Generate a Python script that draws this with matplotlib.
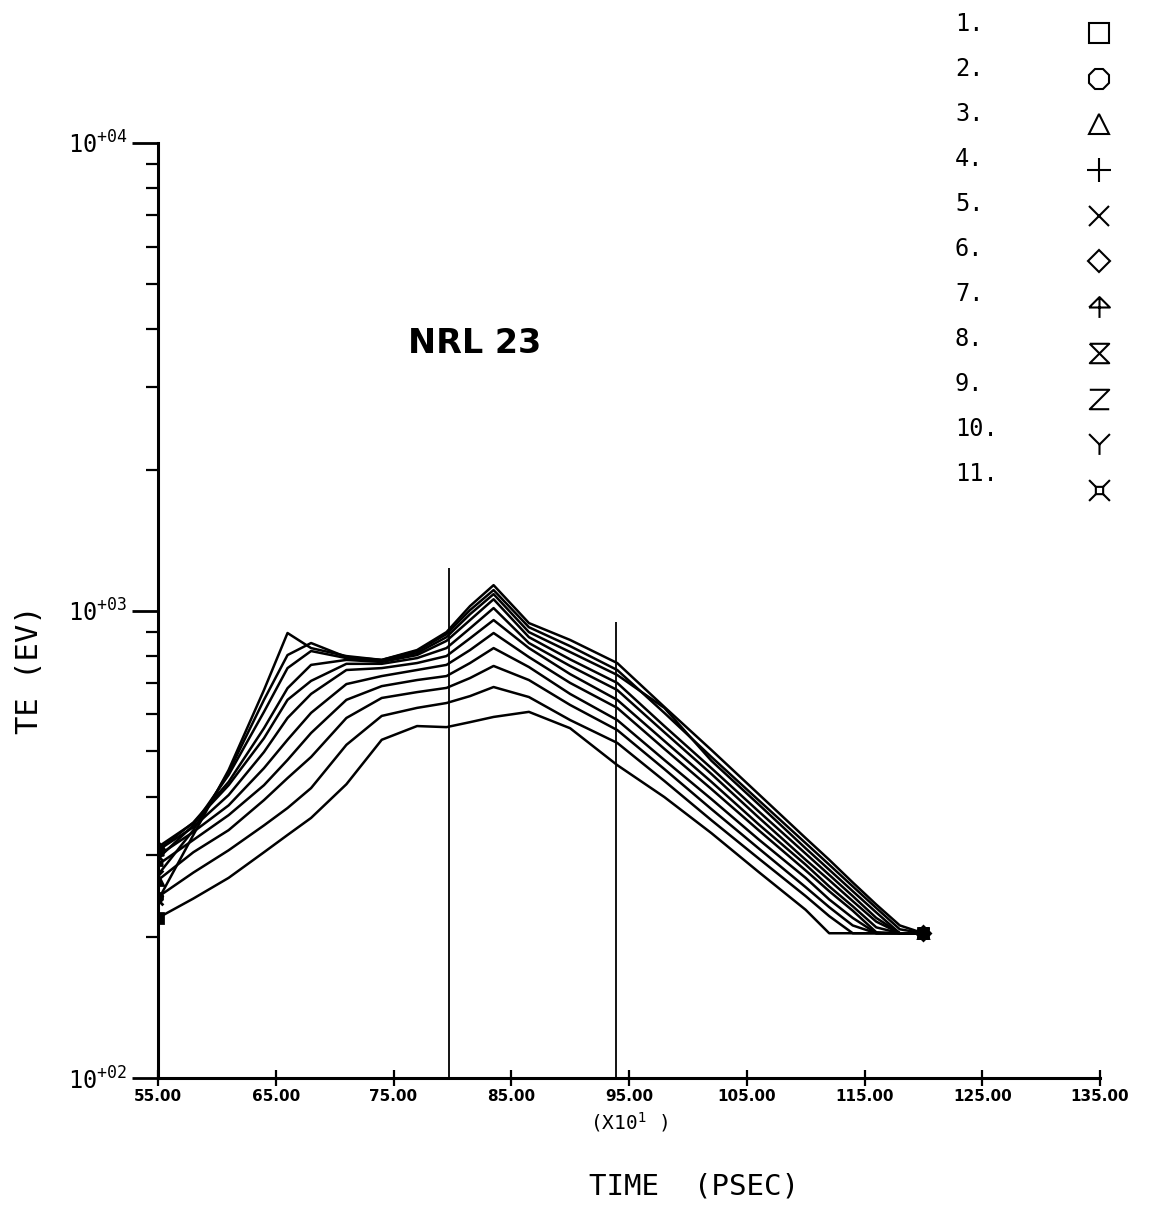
import numpy as np
import matplotlib
matplotlib.use("Agg")
import matplotlib.pyplot as plt
from matplotlib.path import Path
from matplotlib.lines import Line2D
from matplotlib.font_manager import FontProperties
from matplotlib.ticker import LogLocator, NullFormatter

# time axis (units of 10 psec)
time = [55, 58, 61, 64, 66, 68, 71, 74, 77, 79.5, 81.5, 83.5, 86.5, 90, 94,
        98, 102, 106, 110, 112, 114, 116, 118, 120]

# electron temperature (eV), one list per zone
te_1 = [220, 242, 268, 304, 331, 360, 425, 529, 566, 563, 577, 592, 607, 560, 467,
        399, 334, 276, 229, 204, 204, 204, 204, 204]
te_2 = [244, 275, 307, 347, 378, 417, 516, 595, 619, 634, 656, 686, 653, 583, 521,
        432, 356, 295, 245, 222, 204, 204, 204, 204]
te_3 = [265, 304, 339, 393, 438, 486, 589, 650, 669, 683, 717, 761, 710, 628, 555,
        458, 376, 310, 256, 232, 212, 204, 204, 204]
te_4 = [286, 323, 365, 423, 479, 547, 644, 689, 710, 724, 772, 831, 757, 663, 583,
        479, 395, 324, 268, 241, 220, 204, 204, 204]
te_5 = [299, 336, 383, 460, 529, 604, 696, 724, 746, 765, 823, 895, 795, 700, 619,
        506, 415, 339, 278, 251, 228, 205, 204, 204]
te_6 = [307, 344, 403, 498, 589, 663, 746, 753, 772, 799, 872, 954, 831, 731, 644,
        526, 430, 349, 286, 257, 233, 210, 204, 204]
te_7 = [312, 351, 423, 533, 644, 707, 769, 769, 791, 831, 916, 1012, 852, 761, 676,
        549, 447, 361, 293, 265, 239, 216, 204, 204]
te_8 = [307, 352, 430, 560, 682, 765, 784, 776, 803, 861, 954, 1057, 877, 786, 700,
        566, 460, 372, 302, 272, 245, 220, 204, 204]
te_9 = [295, 347, 445, 607, 753, 819, 791, 780, 811, 877, 982, 1084, 899, 815, 728,
        619, 477, 385, 310, 279, 251, 226, 204, 204]
te_10 = [272, 339, 451, 644, 803, 852, 795, 784, 819, 890, 1002, 1106, 921, 839, 746,
         604, 486, 393, 318, 286, 257, 231, 208, 204]
te_11 = [240, 331, 456, 676, 895, 831, 799, 784, 823, 899, 1022, 1133, 940, 865, 772,
         622, 503, 405, 326, 293, 262, 235, 212, 204]

series = [te_1, te_2, te_3, te_4, te_5, te_6, te_7, te_8, te_9, te_10, te_11]
labels = ["1.", "2.", "3.", "4.", "5.", "6.", "7.", "8.", "9.", "10.", "11."]

# vertical marker lines
vline_t = [79.7, 93.9]
vline_top = [1233, 945]

xtick_vals = [55, 65, 75, 85, 95, 105, 115, 125, 135]
ytick_vals = [100, 1000, 10000]
ytick_labels = [r"$\mathregular{10^{+02}}$", r"$\mathregular{10^{+03}}$",
                r"$\mathregular{10^{+04}}$"]


def path_marker(segments):
    verts, codes = [], []
    for seg in segments:
        for i, p in enumerate(seg):
            verts.append(p)
            codes.append(Path.MOVETO if i == 0 else Path.LINETO)
    return Path(verts, codes)


umbrella = path_marker([[(-1, 0), (0, 1), (1, 0), (-1, 0)], [(0, 1), (0, -1)]])
hourglass = path_marker([[(-1, 1), (1, 1), (-1, -1), (1, -1), (-1, 1)]])
zee = path_marker([[(-1, 1), (1, 1), (-1, -1), (1, -1)]])
wye = path_marker([[(-1, 1), (0, 0), (1, 1)], [(0, 0), (0, -1)]])
sq = 0.35
boxcross = path_marker([[(-sq, -sq), (sq, -sq), (sq, sq), (-sq, sq), (-sq, -sq)],
                        [(-1, -1), (-sq, -sq)], [(1, -1), (sq, -sq)],
                        [(1, 1), (sq, sq)], [(-1, 1), (-sq, sq)]])

markers = ["s", "8", "^", "+", "x", "D", umbrella, hourglass, zee, wye, boxcross]
msizes = [15, 16, 15, 17, 15, 11, 15, 14, 14, 15, 15]

fig = plt.figure(figsize=(11.54, 12.07), dpi=100)
ax = fig.add_axes([158 / 1154, 1 - 1078 / 1207, 942 / 1154, 935 / 1207])

for i, te in enumerate(series):
    ax.plot(time, te, color="black", lw=1.8, marker=markers[i],
            markevery=[0, len(time) - 1], markersize=7, mfc="black",
            mec="black", mew=2.0, zorder=3)

ax.vlines(vline_t, 100, vline_top, color="black", lw=1.3)

ax.set_yscale("log")
ax.set_xlim(55, 135)
ax.set_ylim(100, 10000)

for s in ["top", "right"]:
    ax.spines[s].set_visible(False)
for s in ["left", "bottom"]:
    ax.spines[s].set_linewidth(2.2)

mono = FontProperties(family="DejaVu Sans Mono", size=17)

ax.set_xticks(xtick_vals)
ax.set_xticklabels([f"{v:.2f}" for v in xtick_vals], fontweight="bold", fontsize=11)
ax.xaxis.set_minor_locator(plt.NullLocator())
ax.tick_params(axis="x", which="major", direction="inout", length=12, width=1.6, pad=2)

ax.yaxis.set_major_locator(plt.FixedLocator(ytick_vals))
ax.set_yticklabels(ytick_labels)
for t in ax.get_yticklabels():
    t.set_fontproperties(mono)
ax.yaxis.set_minor_locator(LogLocator(base=10, subs=np.arange(2, 10)))
ax.yaxis.set_minor_formatter(NullFormatter())
ax.tick_params(axis="y", which="major", direction="out", length=19, width=2.0, pad=3)
ax.tick_params(axis="y", which="minor", direction="out", length=9, width=1.6)

ax.text(0.336, 0.786, "NRL 23", transform=ax.transAxes, ha="center", va="center",
        fontsize=24, fontweight="bold", family="DejaVu Sans")

fig.text(629 / 1154, 1 - 1122 / 1207, r"(X10$^1$ )", ha="center", va="center",
         family="DejaVu Sans Mono", fontsize=14)
fig.text(30 / 1154, 1 - 670 / 1207, "TE (EV)", rotation=90, ha="center", va="center",
         family="DejaVu Sans Mono", fontsize=22)
fig.text(694 / 1154, 1 - 1187 / 1207, "TIME  (PSEC)", ha="center", va="center",
         family="DejaVu Sans Mono", fontsize=21)

# key in the top right corner: numbers left-aligned, symbols in a column
for i, lab in enumerate(labels):
    fig.text(955 / 1154, 1 - (24 + 45.0 * i) / 1207, lab, ha="left", va="center",
             fontproperties=mono)
    fig.add_artist(Line2D([1099 / 1154], [1 - (33 + 45.7 * i) / 1207],
                          transform=fig.transFigure, ls="none", marker=markers[i],
                          markersize=msizes[i], mfc="none", mec="black", mew=1.5))

fig.savefig("out.png", dpi=100)
